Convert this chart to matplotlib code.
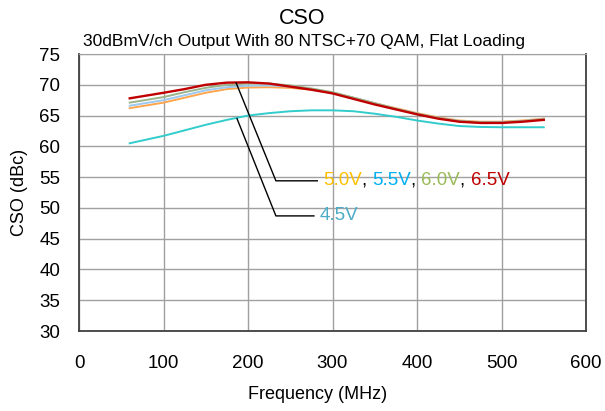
import numpy as np, matplotlib
matplotlib.use('Agg')
import matplotlib.pyplot as plt

plt.rcParams['font.family'] = ['Liberation Sans', 'DejaVu Sans']

# frequency points (MHz)
FREQ = [60, 100, 125, 150, 175, 200, 225, 250, 275, 300, 325, 350,
        375, 400, 425, 450, 475, 500, 525, 550]
CSO_45 = [60.5, 61.7, 62.6, 63.5, 64.3, 65.0, 65.4, 65.7, 65.85, 65.85, 65.7, 65.3,
          64.8, 64.2, 63.7, 63.3, 63.15, 63.1, 63.1, 63.1]
CSO_50 = [66.2, 67.1, 67.9, 68.7, 69.3, 69.55, 69.6, 69.5, 69.2, 68.7, 67.9, 67.0,
          66.2, 65.4, 64.7, 64.2, 64.0, 64.0, 64.2, 64.5]
CSO_55 = [66.6, 67.5, 68.3, 69.1, 69.6, 69.85, 69.9, 69.7, 69.3, 68.7, 67.9, 67.0,
          66.1, 65.3, 64.6, 64.1, 63.9, 63.9, 64.1, 64.4]
CSO_60 = [67.1, 68.0, 68.8, 69.5, 70.0, 70.2, 70.2, 69.9, 69.4, 68.8, 67.9, 67.0,
          66.1, 65.3, 64.6, 64.1, 63.9, 63.9, 64.1, 64.4]
CSO_65 = [67.8, 68.7, 69.3, 70.0, 70.35, 70.4, 70.2, 69.7, 69.2, 68.6, 67.7, 66.8,
          66.0, 65.2, 64.5, 64.0, 63.8, 63.8, 64.0, 64.3]

XTICKS = [0, 100, 200, 300, 400, 500, 600]
YTICKS = [30, 35, 40, 45, 50, 55, 60, 65, 70, 75]

# leader lines from the curves to the labels
LEAD_HI_X = [186, 233, 282]; LEAD_HI_Y = [70.3, 54.4, 54.4]
LEAD_LO_X = [187, 233, 278]; LEAD_LO_Y = [64.5, 48.7, 48.7]

GRID = '#a0a0a0'
fig = plt.figure(figsize=(6.05, 4.11), dpi=100)
ax = fig.add_axes([0.1306, 0.1946, 0.838, 0.674])

ax.plot(FREQ, CSO_45, color='#33CCCC', lw=1.4, zorder=3)
ax.plot(FREQ, CSO_50, color='#FFA64D', lw=1.4, zorder=3)
ax.plot(FREQ, CSO_55, color='#9DC8F0', lw=1.4, zorder=3)
ax.plot(FREQ, CSO_60, color='#9BB58A', lw=1.4, zorder=3)
ax.plot(FREQ, CSO_65, color='#C00000', lw=1.7, zorder=4)

ax.plot(LEAD_HI_X, LEAD_HI_Y, color='black', lw=1.0, zorder=5)
ax.plot(LEAD_LO_X, LEAD_LO_Y, color='black', lw=1.0, zorder=5)

# multi-coloured label
FS_LBL = 13.5
pieces = [('5.0V', '#FFC000'), (', ', 'black'), ('5.5V', '#00B0F0'), (', ', 'black'),
          ('6.0V', '#9BBB59'), (', ', 'black'), ('6.5V', '#C00000')]
t = ax.text(289, 54.4, pieces[0][0], color=pieces[0][1], fontsize=FS_LBL,
            ha='left', va='center', zorder=6)
for s, c in pieces[1:]:
    t = ax.annotate(s, xy=(1, 0), xycoords=t, ha='left', va='bottom',
                    color=c, fontsize=FS_LBL, zorder=6)
ax.text(285, 48.7, '4.5V', color='#4BACC6', fontsize=FS_LBL, ha='left', va='center', zorder=6)

ax.set_xlim(0, 600); ax.set_ylim(30, 75)
ax.set_xticks(XTICKS); ax.set_yticks(YTICKS)
ax.grid(True, color=GRID, lw=1.0)
ax.tick_params(length=0, labelsize=13.5)
ax.tick_params(axis='x', pad=17)
ax.tick_params(axis='y', pad=13.5)
for side in ['left', 'bottom', 'right']:
    ax.spines[side].set_color('#404040'); ax.spines[side].set_linewidth(1.3)
ax.spines['top'].set_color(GRID)

ax.set_xlabel('Frequency (MHz)', fontsize=13)
ax.xaxis.set_label_coords(0.47, -0.2)
ax.set_ylabel('CSO (dBc)', fontsize=13)
ax.yaxis.set_label_coords(-0.1, 0.5)
fig.text(0.5, 0.955, 'CSO', ha='center', va='center', fontsize=15.5)
fig.text(0.502, 0.898, '30dBmV/ch Output With 80 NTSC+70 QAM, Flat Loading',
         ha='center', va='center', fontsize=12.5)

fig.savefig('out.png', dpi=100)
